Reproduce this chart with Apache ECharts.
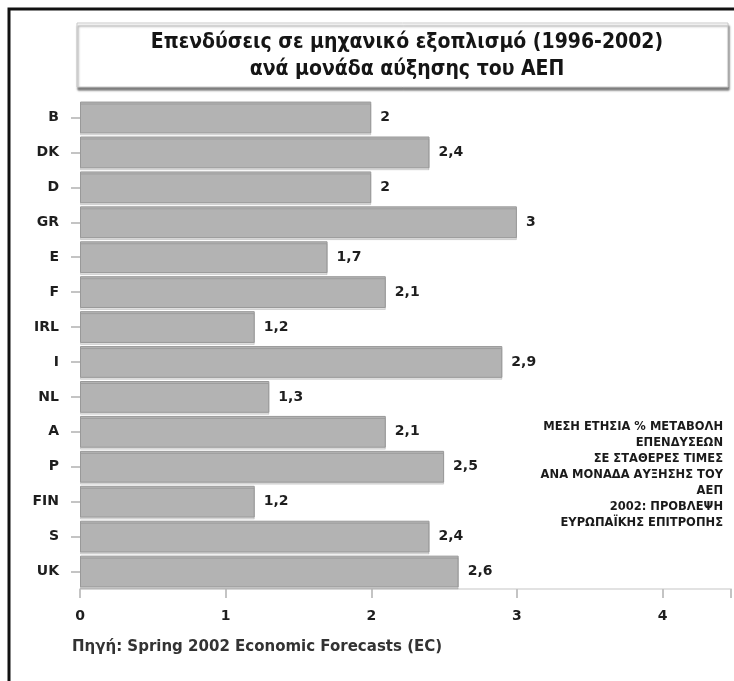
<!DOCTYPE html>
<html>
<head>
<meta charset="utf-8">
<script src="https://cdn.jsdelivr.net/npm/echarts@6/dist/echarts.min.js"></script>
<style>
html, body { margin: 0; padding: 0; background: #fff; }
#chart { width: 734px; height: 681px; }
</style>
</head>
<body>
<div id="chart"></div>
<script>
// χώρες και τιμές (από πάνω προς τα κάτω)
var countries = ['B', 'DK', 'D', 'GR', 'E', 'F', 'IRL', 'I', 'NL', 'A', 'P', 'FIN', 'S', 'UK']
var values = [2, 2.4, 2, 3, 1.7, 2.1, 1.2, 2.9, 1.3, 2.1, 2.5, 1.2, 2.4, 2.6]
var xTicks = [0, 1, 2, 3, 4]

var titleLines = ['Επενδύσεις σε μηχανικό εξοπλισμό (1996-2002)', 'ανά μονάδα αύξησης του ΑΕΠ']
var noteLines = [
  'ΜΕΣΗ ΕΤΗΣΙΑ % ΜΕΤΑΒΟΛΗ',
  'ΕΠΕΝΔΥΣΕΩΝ',
  'ΣΕ ΣΤΑΘΕΡΕΣ ΤΙΜΕΣ',
  'ΑΝΑ ΜΟΝΑΔΑ ΑΥΞΗΣΗΣ ΤΟΥ',
  'ΑΕΠ',
  '2002: ΠΡΟΒΛΕΨΗ',
  'ΕΥΡΩΠΑΪΚΗΣ ΕΠΙΤΡΟΠΗΣ'
]
var source = 'Πηγή: Spring 2002 Economic Forecasts (EC)'

var FONT = '"DejaVu Sans"'

var chart = echarts.init(document.getElementById('chart'))

chart.setOption({
  animation: false,
  backgroundColor: '#fff',
  grid: {
    left: 80,
    top: 100,
    right: 0,
    height: 489
  },
  xAxis: {
    type: 'value',
    min: 0,
    max: 4.47,
    interval: 1,
    splitLine: { show: false },
    axisLine: { show: true, lineStyle: { color: '#e2e2e2', width: 2 } },
    axisTick: { show: true, length: 9, lineStyle: { color: '#c4c4c4', width: 2 } },
    axisLabel: {
      margin: 20,
      color: '#1e1e1e',
      fontFamily: FONT,
      fontWeight: 'bold',
      fontSize: 14,
      formatter: function (v) {
        return xTicks.indexOf(v) >= 0 ? String(v) : ''
      }
    }
  },
  yAxis: {
    type: 'category',
    inverse: true,
    data: countries,
    axisLine: { show: false },
    axisTick: { show: true, alignWithLabel: true, length: 9, lineStyle: { color: '#c4c4c4', width: 2 } },
    axisLabel: {
      margin: 21,
      color: '#1e1e1e',
      fontFamily: FONT,
      fontWeight: 'bold',
      fontSize: 14
    }
  },
  series: [{
    type: 'bar',
    data: values,
    barCategoryGap: '9%',
    itemStyle: {
      color: '#b3b3b3',
      borderColor: '#999',
      borderWidth: 1,
      shadowColor: 'rgba(0,0,0,0.12)',
      shadowOffsetY: 2
    },
    label: {
      show: true,
      position: 'right',
      distance: 9,
      color: '#1e1e1e',
      fontFamily: FONT,
      fontWeight: 'bold',
      fontSize: 14,
      formatter: function (p) {
        return String(p.value).replace('.', ',')
      }
    }
  }],
  graphic: [
    // εξωτερικό πλαίσιο
    {
      type: 'rect',
      shape: { x: 9, y: 9, width: 740, height: 690 },
      style: { fill: 'none', stroke: '#111', lineWidth: 3 },
      z: 10
    },
    // πλαίσιο τίτλου
    {
      type: 'rect',
      shape: { x: 77, y: 23, width: 651, height: 64 },
      style: {
        fill: '#fff',
        stroke: '#c8c8c8',
        lineWidth: 1,
        shadowColor: 'rgba(0,0,0,0.5)',
        shadowOffsetY: 3,
        shadowOffsetX: 1,
        shadowBlur: 2
      },
      z: 5
    },
    {
      type: 'text',
      x: 407,
      y: 29,
      z: 6,
      style: {
        text: titleLines.join('\n'),
        align: 'center',
        fill: '#151515',
        font: 'bold 21px "DejaVu Sans Condensed", "DejaVu Sans"',
        lineHeight: 27
      }
    },
    {
      type: 'text',
      x: 723,
      y: 419,
      z: 6,
      style: {
        text: noteLines.join('\n'),
        align: 'right',
        fill: '#1a1a1a',
        font: 'bold 11.5px ' + FONT,
        lineHeight: 16
      }
    },
    {
      type: 'text',
      x: 72,
      y: 647,
      z: 6,
      style: {
        text: source,
        fill: '#333',
        verticalAlign: 'middle',
        font: 'bold 15px ' + FONT
      }
    }
  ]
})
</script>
</body>
</html>
